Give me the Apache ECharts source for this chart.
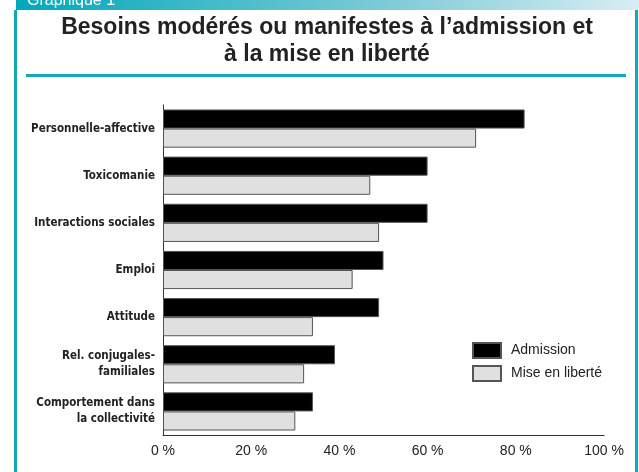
<!DOCTYPE html>
<html>
<head>
<meta charset="utf-8">
<script src="https://cdn.jsdelivr.net/npm/echarts@6/dist/echarts.min.js"></script>
<style>html,body{margin:0;padding:0;background:#fff}#c{width:639px;height:472px}</style>
</head>
<body>
<div id="c"></div>
<script>
const categories = ['Personnelle-affective','Toxicomanie','Interactions sociales','Emploi','Attitude','Rel. conjugales-\nfamiliales','Comportement dans\nla collectivité'];
const admission = [82,60,60,50,49,39,34];
const release = [71,47,49,43,34,32,30];
const xTicks = [0,20,40,60,80,100];
const seriesNames = ['Admission','Mise en liberté'];
const titleText = 'Besoins modérés ou manifestes à l’admission et\nà la mise en liberté';
const headerText = 'Graphique 1';

const chart = echarts.init(document.getElementById('c'), null, {renderer:'canvas'});
const teal = '#12a8b8';
chart.setOption({
  backgroundColor:'#fff',
  animation:false,
  title:{
    text:titleText,
    left:322, top:9, textAlign:'center',
    textStyle:{fontFamily:'Liberation Sans', fontWeight:'bold', fontSize:23, lineHeight:27, color:'#222'}
  },
  legend:{
    orient:'vertical', left:467, top:337, itemWidth:28, itemHeight:15, itemGap:6,
    icon:'rect',
    data:seriesNames,
    textStyle:{fontFamily:'Liberation Sans', fontSize:14, color:'#222', padding:[0,0,0,5]}
  },
  grid:{left:163, right:35, top:105, bottom:37, containLabel:false},
  xAxis:{
    type:'value', min:xTicks[0], max:xTicks[xTicks.length-1], interval:20,
    axisLine:{show:true, lineStyle:{color:'#333', width:1}},
    axisTick:{show:false}, splitLine:{show:false},
    axisLabel:{formatter:'{value} %', margin:9, fontFamily:'Liberation Sans', fontSize:14, color:'#222'}
  },
  yAxis:{
    type:'category', data:categories, inverse:true,
    axisLine:{show:true, lineStyle:{color:'#333', width:1}},
    axisTick:{show:false},
    axisLabel:{margin:8, fontFamily:'DejaVu Sans Condensed', fontWeight:'bold', fontSize:11.5, lineHeight:16, color:'#222', align:'right'}
  },
  series:[
    {name:seriesNames[0], type:'bar', data:admission, barGap:'0%', barCategoryGap:'19%',
     itemStyle:{color:'#000', borderColor:'#555', borderWidth:1}},
    {name:seriesNames[1], type:'bar', data:release, barGap:'0%', barCategoryGap:'19%',
     itemStyle:{color:'#e0e0e0', borderColor:'#555', borderWidth:1}}
  ],
  graphic:[
    {type:'rect', left:16, top:0, shape:{x:0,y:0,width:623,height:10},
     style:{fill:new echarts.graphic.LinearGradient(0,0,1,0,[{offset:0,color:'#00a8b9'},{offset:0.6,color:'#7fcbd8'},{offset:1,color:'#d8eef3'}])}, z:10},
    {type:'text', x:27, y:9, style:{text:headerText, fill:'#fff', font:'16px "Liberation Sans"', verticalAlign:'bottom'}, z:11},
    {type:'rect', shape:{x:14,y:10,width:3,height:462}, style:{fill:teal}, z:10},
    {type:'rect', shape:{x:635,y:10,width:3,height:462}, style:{fill:teal}, z:10},
    {type:'rect', shape:{x:26,y:74,width:600,height:3}, style:{fill:teal}, z:10}
  ]
});
</script>
</body>
</html>
